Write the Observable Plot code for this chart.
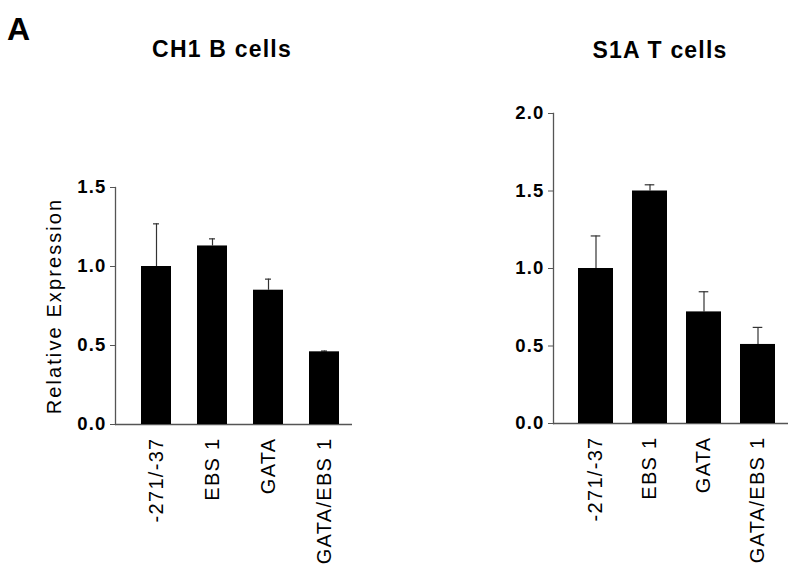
<!DOCTYPE html>
<html>
<head>
<meta charset="utf-8">
<script src="https://cdn.jsdelivr.net/npm/d3@7"></script>
<script src="https://cdn.jsdelivr.net/npm/@observablehq/plot@0.6"></script>
<style>
  body { margin: 0; background: #fff; font-family: "Liberation Sans", Arial, sans-serif; }
  #wrap { position: relative; width: 800px; height: 583px; overflow: hidden; background: #fff; }
  .panel { position: absolute; top: 0; }
  .title { position: absolute; font-weight: bold; font-size: 23px; line-height: 23px; letter-spacing: 1.2px; white-space: nowrap; transform: translateX(-50%); color: #000; }
  .letter { position: absolute; left: 7px; top: 13px; font-weight: bold; font-size: 32px; line-height: 32px; color: #000; }
  svg text { font-family: "Liberation Sans", Arial, sans-serif; }
  [aria-label="y-axis tick label"] { font-weight: bold; font-size: 18.5px; letter-spacing: 1.2px; }
  [aria-label="x-axis tick label"] { font-size: 20px; letter-spacing: 1.3px; }
</style>
</head>
<body>
<div id="wrap">
  <div class="letter">A</div>
  <div class="title" id="t1" style="left:222px; top:38px;"></div>
  <div class="title" id="t2" style="left:660px; top:39px;"></div>
  <div class="panel" id="p1" style="left:0px;"></div>
  <div class="panel" id="p2" style="left:400px;"></div>
</div>
<script>
// ---- data ----
const categories = ["-271/-37", "EBS 1", "GATA", "GATA/EBS 1"];
const titles = ["CH1 B cells", "S1A T cells"];
const yLabel = "Relative Expression";

const bValues = [1.00, 1.13, 0.85, 0.46];
const bErrors = [0.27, 0.045, 0.07, 0.005];
const bTicks = [0, 0.5, 1.0, 1.5];

const tValues = [1.00, 1.50, 0.72, 0.51];
const tErrors = [0.21, 0.04, 0.13, 0.11];
const tTicks = [0, 0.5, 1.0, 1.5, 2.0];

document.getElementById("t1").textContent = titles[0];
document.getElementById("t2").textContent = titles[1];

function table(values, errors) {
  return categories.map((c, i) => ({cat: c, value: values[i], top: values[i] + errors[i]}));
}

function panel({values, errors, ticks, ymax, margins, band, capInset, showLabel}) {
  const data = table(values, errors);
  const marks = [
    Plot.ruleY([0], {stroke: "#555", strokeWidth: 1.3}),
    Plot.frame({anchor: "left", stroke: "#555", strokeWidth: 1.3}),
    Plot.ruleX(data, {x: "cat", y1: "value", y2: "top", stroke: "#333", strokeWidth: 1.2}),
    Plot.tickY(data, {x: "cat", y: "top", stroke: "#333", strokeWidth: 1.2, insetLeft: capInset, insetRight: capInset}),
    Plot.barY(data, {x: "cat", y: "value", fill: "#000"}),
    Plot.axisY(ticks, {tickFormat: d3.format(".1f"), tickSize: 5, tickPadding: 4, stroke: "#555", fill: "#000", fontSize: 18.5, fontWeight: "bold", label: null}),
    Plot.axisX({tickSize: 0, tickRotate: -90, tickPadding: 13, fontSize: 20, fill: "#000", label: null})
  ];
  if (showLabel) {
    marks.push(Plot.text([yLabel], {frameAnchor: "left", dx: -61, rotate: -90, fontSize: 20, textAnchor: "middle", lineAnchor: "middle", fill: "#000"}));
  }
  const svg = Plot.plot({
    width: 400,
    height: 583,
    ...margins,
    style: {background: "transparent", overflow: "visible"},
    x: {domain: categories, ...band},
    y: {domain: [0, ymax], nice: false},
    marks
  });
  svg.querySelectorAll('g[aria-label="text"] text').forEach(t => { t.style.letterSpacing = "2.1px"; });
  return svg;
}

document.getElementById("p1").append(panel({
  values: bValues, errors: bErrors, ticks: bTicks, ymax: 1.5,
  margins: {marginLeft: 115, marginRight: 48, marginTop: 187, marginBottom: 159},
  band: {paddingInner: 0.464, paddingOuter: 0.348, align: 0.66},
  capInset: 12, showLabel: true
}));

document.getElementById("p2").append(panel({
  values: tValues, errors: tErrors, ticks: tTicks, ymax: 2.0,
  margins: {marginLeft: 153, marginRight: 12, marginTop: 113, marginBottom: 160},
  band: {paddingInner: 0.355, paddingOuter: 0.32, align: 0.66},
  capInset: 12.7, showLabel: false
}));
</script>
</body>
</html>
